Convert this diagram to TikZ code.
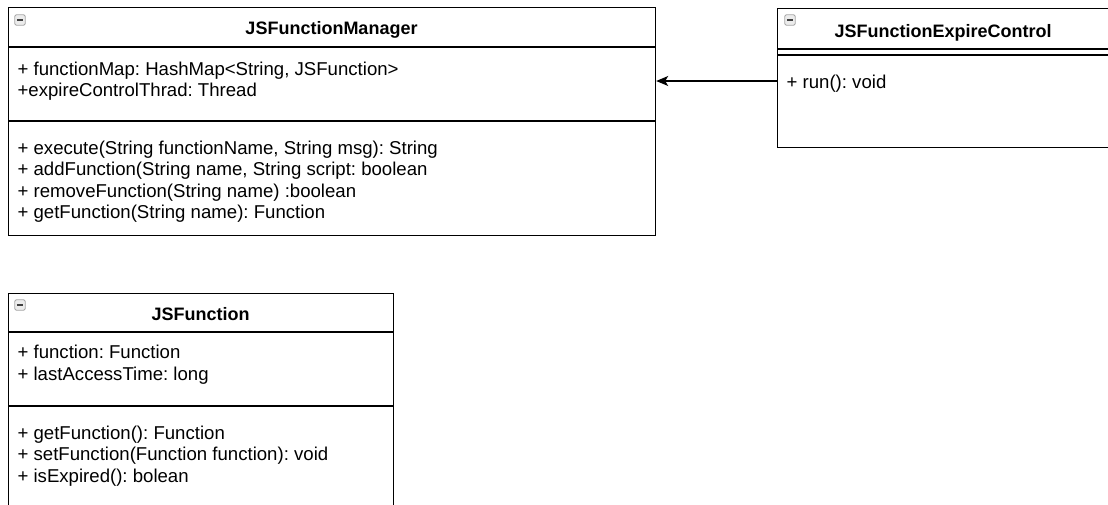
\documentclass[tikz,border=0pt]{standalone}
\usepackage{fontspec}
\setmainfont{Liberation Sans}
\usetikzlibrary{arrows.meta}
\frenchspacing

\begin{document}
\begin{tikzpicture}[x=1pt,y=-1pt,line width=1.2pt,
    member/.style={anchor=base west,inner sep=0pt,font=\fontsize{18.6}{21.5}\selectfont},
    title/.style={anchor=base,inner sep=0pt,font=\fontsize{18}{21}\selectfont\bfseries},
    fold/.style={draw=gray!70,line width=0.9pt,fill=gray!15,rounded corners=1.5pt,
        minimum size=10.5pt,inner sep=0pt}]
\useasboundingbox (0,0) rectangle (1108,504);

% class boxes
\node[draw,anchor=north west,minimum width=647,minimum height=228,inner sep=0pt] (mgr) at (8,7) {};
\node[draw,anchor=north west,minimum width=333,minimum height=139,inner sep=0pt] (ctrl) at (777,8) {};
\node[draw,anchor=north west,minimum width=385,minimum height=220,inner sep=0pt] (fn) at (8,292.5) {};

% compartments
\draw (8,47) -- (655,47);
\draw (8,121) -- (655,121);
\draw (777,49) -- (1110,49);
\draw (777,55) -- (1110,55);
\draw (8,332) -- (393,332);
\draw (8,406) -- (393,406);

% collapse icons
\foreach \x/\y/\n in {20/20/mgr,790/20/ctrl,20/305/fn}
    \node[fold] (fold\n) at (\x,\y) {};
\foreach \x/\y in {20/20,790/20,20/305}
    \draw[line width=1.8pt,black!75] (\x-3.2,\y) -- (\x+3.2,\y);

% titles
\node[title] (mgrname) at (331.5,34) {JSFunctionManager};
\node[title] (ctrlname) at (943,37) {JSFunctionExpireControl};
\node[title] (fnname) at (200.5,320) {JSFunction};

% JSFunctionManager
\node[member] (m1) at (17,75) {+ functionMap: HashMap<String, JSFunction>};
\node[member] (m2) at (17,96.5) {+expireControlThrad: Thread};
\node[member] (m3) at (17,154) {+ execute(String functionName, String msg): String};
\node[member] (m4) at (17,175.5) {+ addFunction(String name, String script: boolean};
\node[member] (m5) at (17,197) {+ removeFunction(String name) :boolean};
\node[member] (m6) at (17,218.5) {+ getFunction(String name): Function};

% JSFunctionExpireControl
\node[member] (c1) at (786,88) {+ run(): void};

% JSFunction
\node[member] (f1) at (17,358) {+ function: Function};
\node[member] (f2) at (17,380) {+ lastAccessTime: long};
\node[member] (f3) at (17,439) {+ getFunction(): Function};
\node[member] (f4) at (17,460.5) {+ setFunction(Function function): void};
\node[member] (f5) at (17,482) {+ isExpired(): bolean};

% association
\draw[-{Stealth[length=12pt,width=10pt,inset=3pt]}] (ctrl.west |- 0,81) -- (mgr.east |- 0,81);
\end{tikzpicture}
\end{document}
